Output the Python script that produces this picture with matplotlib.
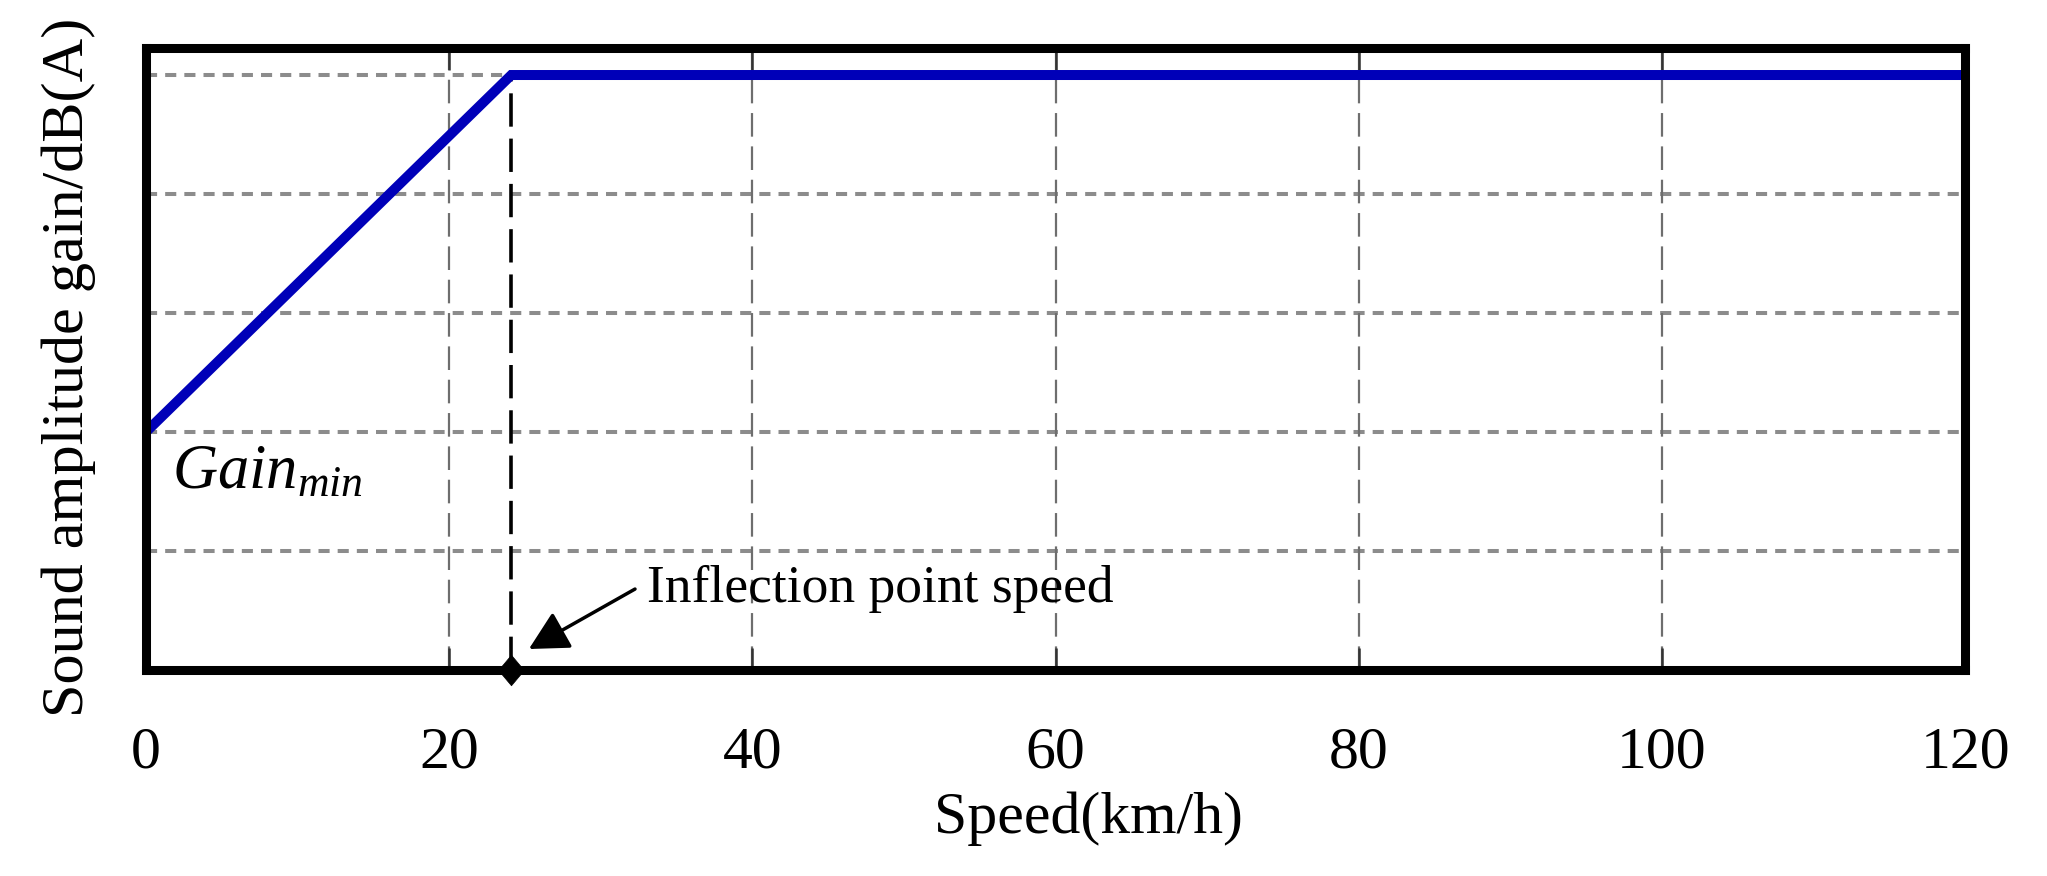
import matplotlib
matplotlib.use('Agg')
import matplotlib.pyplot as plt

plt.rcParams['font.family'] = ['Liberation Serif', 'DejaVu Serif']
plt.rcParams['mathtext.fontset'] = 'custom'
plt.rcParams['mathtext.rm'] = 'Liberation Serif'
plt.rcParams['mathtext.it'] = 'Liberation Serif:italic'
plt.rcParams['lines.scale_dashes'] = False

# данные кривой усиления
speed = [0, 24.1, 120]
gain = [2, 5, 5]
inflection_speed = 24.1
x_ticks = [0, 20, 40, 60, 80, 100, 120]
y_grid = [1, 2, 3, 4, 5]

fig = plt.figure(figsize=(20.47, 8.76), dpi=100)
ax = fig.add_axes([0.0713, 0.2352, 0.8887, 0.710])

ax.set_xlim(0, 120)
ax.set_ylim(0, 5.227)

# сетка: горизонтальные и вертикальные линии разного стиля
for y in y_grid:
    ax.axhline(y, color='#8c8c8c', lw=2.9, linestyle=(0, (8, 5.8)), zorder=1)
for x in x_ticks[1:-1]:
    ax.axvline(x, color='#6e6e6e', lw=1.6, linestyle=(0, (17, 7)), zorder=1)

ax.plot(speed, gain, color='#0000b8', lw=7.2, solid_joinstyle='miter', zorder=3)
ax.plot([inflection_speed, inflection_speed], [0, gain[1]], color='black', lw=2.6,
        linestyle=(0, (24, 8.6)), zorder=2)
diamond = [(-0.42, 0), (0, 0.5), (0.42, 0), (0, -0.5), (-0.42, 0)]
ax.plot([inflection_speed], [0], marker=diamond, color='black', ms=22, mew=0.5,
        clip_on=False, zorder=5)

ax.text(33.05, 0.571, 'Inflection point speed', fontsize=38.5, va='baseline', ha='left')
ax.annotate('', xy=(25.26, 0.176), xytext=(32.26, 0.68),
            arrowprops=dict(arrowstyle='-|>,head_length=1.2,head_width=0.63', mutation_scale=20,
                            color='black', lw=2.5, shrinkA=0, shrinkB=0))
ax.text(1.72, 1.53, r'$Gain_{min}$', fontsize=45, va='baseline', ha='left')

ax.set_xticks(x_ticks)
ax.set_yticks([])
ax.tick_params(axis='x', direction='in', length=16, width=1.8, labelsize=43, pad=41,
               top=True, color='#333333')
ax.set_xlabel('Speed(km/h)', fontsize=43)
ax.xaxis.label.set_verticalalignment('baseline')
ax.xaxis.set_label_coords(0.518, -0.262)
ax.set_ylabel('Sound amplitude gain/dB(A)', fontsize=43.4)
ax.yaxis.set_label_coords(-0.0275, 0.486)

for s in ax.spines.values():
    s.set_linewidth(6.5)
    s.set_color('black')
    s.set_zorder(4)

fig.savefig('out.png', dpi=100, facecolor='white')
